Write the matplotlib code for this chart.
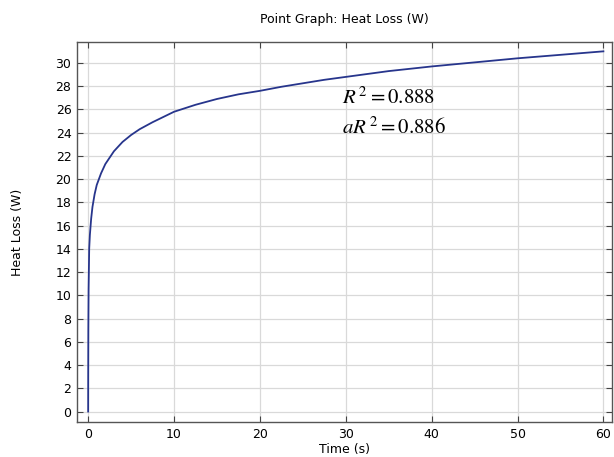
import matplotlib
matplotlib.use("Agg")
import matplotlib.pyplot as plt

# values
time_s = [0, 0.005, 0.02, 0.05, 0.12, 0.2, 0.35, 0.5, 0.75, 1, 1.5, 2, 3, 4, 5, 6, 7.5,
          10, 12.5, 15, 17.5, 20, 22.5, 25, 27.5, 30, 35, 40, 45, 50, 55, 60]
heat_loss = [0, 3.0, 7.0, 10.5, 14.0, 15.2, 16.6, 17.6, 18.7, 19.5, 20.5, 21.3, 22.4,
             23.2, 23.8, 24.3, 24.9, 25.8, 26.4, 26.9, 27.3, 27.6, 27.95, 28.25, 28.55,
             28.8, 29.3, 29.7, 30.05, 30.4, 30.7, 31.0]
x_ticks = [0, 10, 20, 30, 40, 50, 60]
y_ticks = list(range(0, 31, 2))

plt.rcParams["mathtext.fontset"] = "stix"

fig = plt.figure(figsize=(6.14, 4.57), dpi=100)
ax = fig.add_axes([0.1254, 0.0766, 0.8713, 0.8314])

ax.plot(time_s, heat_loss, color="#27358c", lw=1.3)

ax.set_xlim(-1.3, 61.0)
ax.set_ylim(-0.9, 31.8)
ax.set_xticks(x_ticks)
ax.set_yticks(y_ticks)
ax.grid(True, color="#d9d9d9", lw=0.9)
ax.tick_params(direction="in", top=True, right=True, labelsize=9, length=4,
               color="#444444", pad=4)
for s in ax.spines.values():
    s.set_color("#555555")
    s.set_linewidth(1.0)

ax.set_title("Point Graph: Heat Loss (W)", fontsize=9, pad=14)
ax.set_xlabel("Time (s)", fontsize=9, labelpad=2)
ax.set_ylabel("Heat Loss (W)", fontsize=9, labelpad=23)

ax.text(29.6, 27.1, r"$R^{\,2} = 0.888$", fontsize=15, va="center", ha="left")
ax.text(29.6, 24.5, r"$aR^{\,2} = 0.886$", fontsize=15, va="center", ha="left")

fig.savefig("out.png", dpi=100)
